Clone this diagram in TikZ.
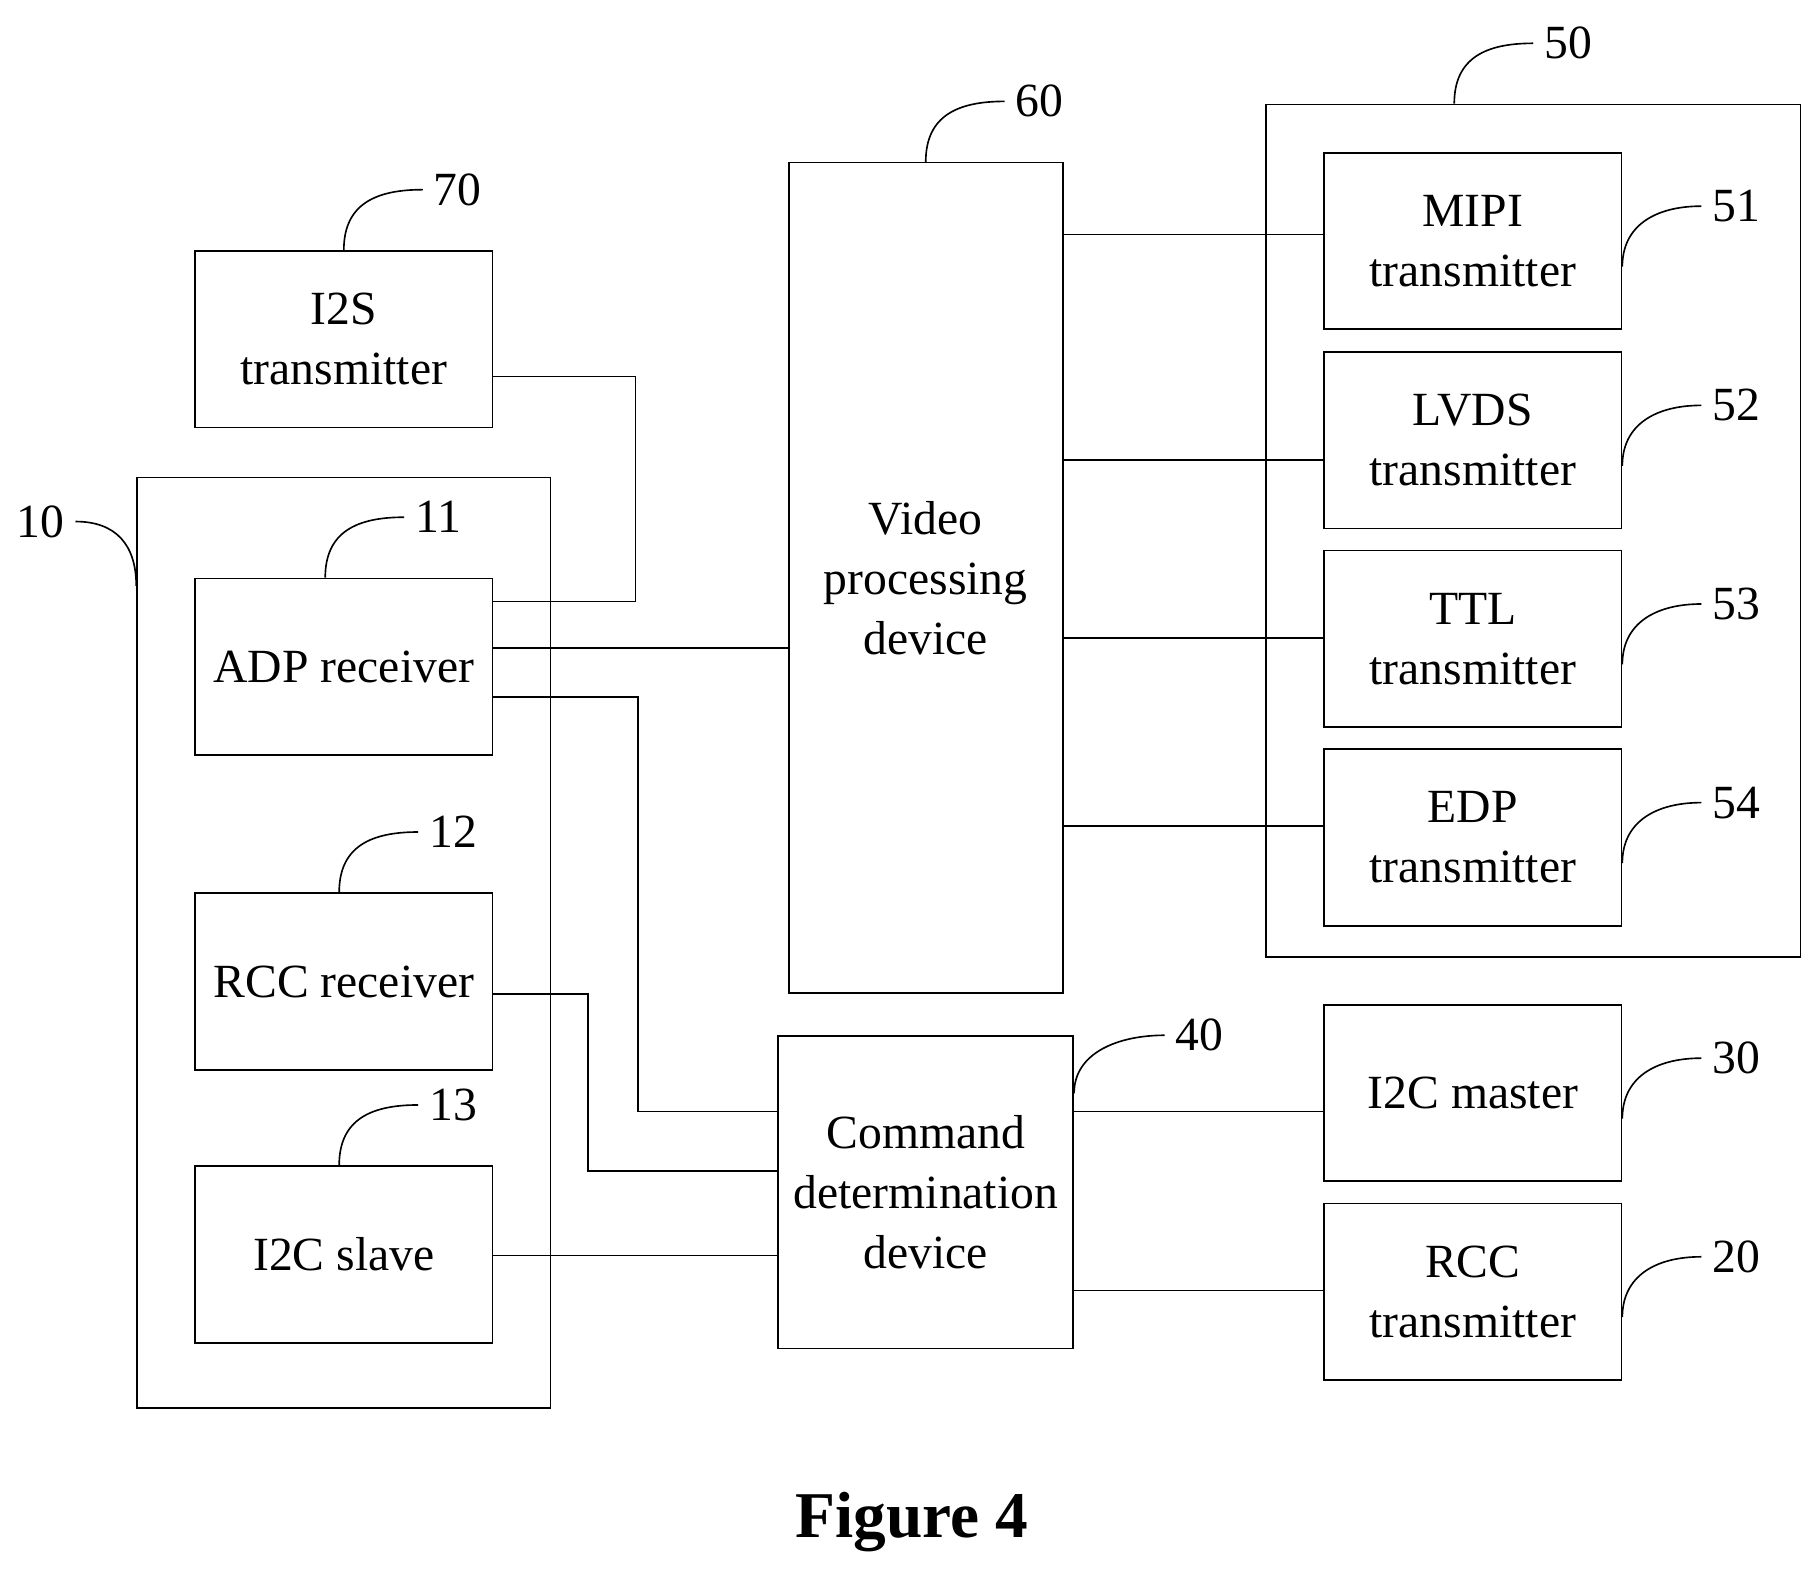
\documentclass[tikz,border=0pt]{standalone}
\usepackage{fontspec}
\setmainfont{Liberation Serif}
\usetikzlibrary{positioning}

\tikzset{
  box/.style={draw, line width=1.2pt, align=center, inner sep=0pt,
    font=\fontsize{35}{44}\selectfont},
  sbox/.style={box, minimum width=7.68cm, minimum height=4.56cm},
  wire/.style={line width=1.2pt},
  lead/.style={line width=1.2pt},
  num/.style={font=\fontsize{35}{40}\selectfont, anchor=west, inner sep=8pt}
}

\begin{document}
\begin{tikzpicture}[x=0.03cm, y=-0.03cm]
\useasboundingbox (0,0) rectangle (1560,1350);

% outer units
\node[box, minimum width=10.68cm, minimum height=24.03cm] (unitA) at (296,811.5) {};
\node[box, minimum width=13.8cm, minimum height=22.02cm] (unitB) at (1320,457) {};

% left column
\node[sbox] (i2s) at (296,292) {I2S\\transmitter};
\node[sbox] (adp) at (296,574) {ADP receiver};
\node[sbox] (rccrx) at (296,845) {RCC receiver};
\node[sbox] (slave) at (296,1080) {I2C slave};

% middle
\node[box, minimum width=7.08cm, minimum height=21.45cm] (video) at (797,497.5) {Video\\processing\\device};
\node[box, minimum width=7.62cm, minimum height=8.07cm] (cmd) at (797,1026.5) {Command\\determination\\device};

% right column
\node[sbox] (mipi) at (1268,207.5) {MIPI\\transmitter};
\node[sbox] (lvds) at (1268,379) {LVDS\\transmitter};
\node[sbox] (ttl) at (1268,550) {TTL\\transmitter};
\node[sbox] (edp) at (1268,721) {EDP\\transmitter};
\node[sbox] (master) at (1268,941) {I2C master};
\node[sbox] (rcctx) at (1268,1112) {RCC\\transmitter};

% connector heights
\coordinate (h324) at (0,324);
\coordinate (h518) at (0,518);
\coordinate (h558) at (0,558);
\coordinate (h600) at (0,600);
\coordinate (h856) at (0,856);
\coordinate (h1008) at (0,1008);
\coordinate (h1081) at (0,1081);
\coordinate (h202) at (0,202);
\coordinate (h396) at (0,396);
\coordinate (h549) at (0,549);
\coordinate (h711) at (0,711);
\coordinate (h957) at (0,957);
\coordinate (h1111) at (0,1111);

\draw[wire] (i2s.east |- h324) -| (547,518) -- (adp.east |- h518);
\draw[wire] (adp.east |- h558) -- (video.west |- h558);
\draw[wire] (adp.east |- h600) -| (549,957) -- (cmd.west |- h957);
\draw[wire] (rccrx.east |- h856) -| (506,1008) -- (cmd.west |- h1008);
\draw[wire] (slave.east |- h1081) -- (cmd.west |- h1081);

\draw[wire] (video.east |- h202) -- (mipi.west |- h202);
\draw[wire] (video.east |- h396) -- (lvds.west |- h396);
\draw[wire] (video.east |- h549) -- (ttl.west |- h549);
\draw[wire] (video.east |- h711) -- (edp.west |- h711);
\draw[wire] (cmd.east |- h957) -- (master.west |- h957);
\draw[wire] (cmd.east |- h1111) -- (rcctx.west |- h1111);

% reference numerals, leaders from box tops
\foreach \n/\lab/\dx in {i2s/70/0, video/60/0, adp/11/-16, rccrx/12/-4, slave/13/-4}{
  \draw[lead] ([xshift=\dx*0.03cm]\n.north) .. controls +(0,-40) and +(-40,0) ..
    ++(68,-52) coordinate (t\n);
  \node[num] at (t\n) {\lab};
}
\draw[lead] ([xshift=-68*0.03cm]unitB.north) .. controls +(0,-40) and +(-40,0) ..
  ++(68,-52) coordinate (tunitB);
\node[num] at (tunitB) {50};
\draw[lead] ([yshift=-50*0.03cm]cmd.north east) .. controls +(0,-35) and +(-40,0) ..
  ++(78,-50) coordinate (tcmd);
\node[num] at (tcmd) {40};

% leaders from box right sides
\foreach \n/\lab in {mipi/51, lvds/52, ttl/53, edp/54, master/30, rcctx/20}{
  \draw[lead] ([yshift=-22*0.03cm]\n.east) .. controls +(0,-35) and +(-40,0) ..
    ++(68,-52) coordinate (t\n);
  \node[num] at (t\n) {\lab};
}

% unit 10 leader on the left
\coordinate (l10) at (65,449);
\draw[lead] (l10) .. controls +(35,0) and +(0,-35) .. ([yshift=-94*0.03cm]unitA.north west);
\node[num, anchor=east] at (l10) {10};

\node[font=\bfseries\fontsize{48}{52}\selectfont] (cap) at (785,1310) {Figure 4};
\end{tikzpicture}
\end{document}
